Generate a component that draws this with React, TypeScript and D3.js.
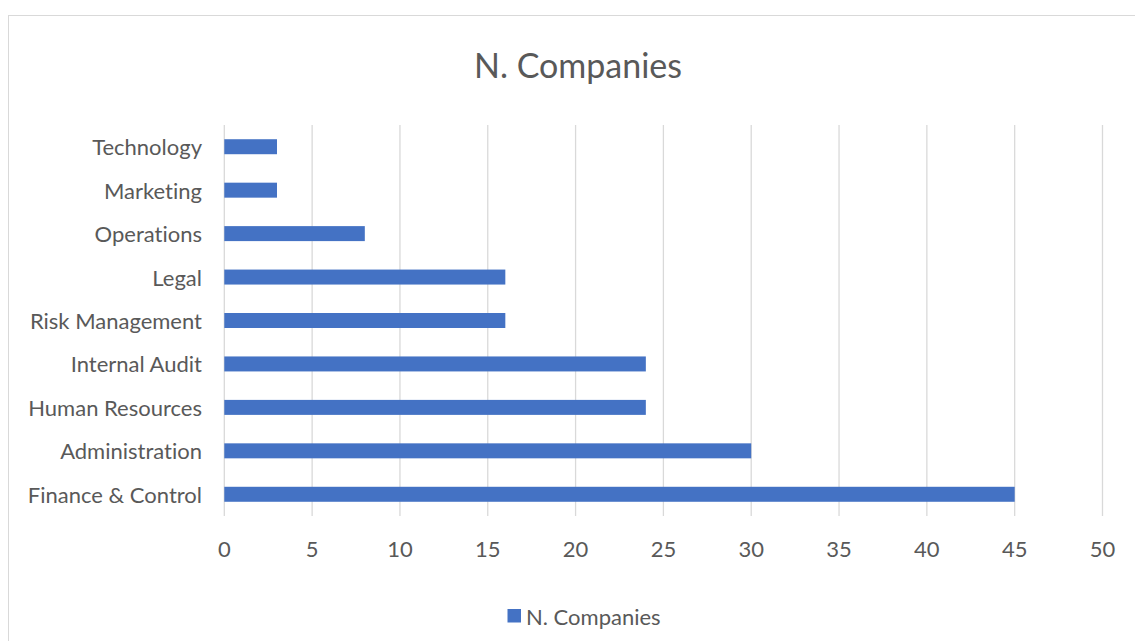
import React from "react";
import * as d3 from "d3";

const categories = [
  "Technology",
  "Marketing",
  "Operations",
  "Legal",
  "Risk Management",
  "Internal Audit",
  "Human Resources",
  "Administration",
  "Finance & Control",
];
const values = [3, 3, 8, 16, 16, 24, 24, 30, 45];
const xTicks = [0, 5, 10, 15, 20, 25, 30, 35, 40, 45, 50];
const title = "N. Companies";
const seriesName = "N. Companies";

const W = 1135;
const H = 641;
const FONT = "Lato, 'Open Sans', sans-serif";
const TEXT = "#595959";
const GRID = "#D9D9D9";
const BAR = "#4472C4";
const FS = 22;

export default function App() {
  const x = d3.scaleLinear().domain([0, 50]).range([224.3, 1102.5]);
  const y = d3
    .scaleBand<string>()
    .domain(categories)
    .range([125, 516])
    .paddingInner(0.655)
    .paddingOuter(0.3275);

  return (
    <svg
      width={W}
      height={H}
      style={{ position: "absolute", left: 0, top: 0, background: "#fff", fontVariantLigatures: "none" }}
      fontFamily={FONT}
    >
      <rect x={8.5} y={15.5} width={1140} height={640} fill="#fff" stroke={GRID} strokeWidth={1} />
      <text x={578} y={64} textAnchor="middle" dominantBaseline="central" fontSize={34} fill={TEXT}>
        {title}
      </text>
      {xTicks.map((t) => (
        <g key={t}>
          <line x1={x(t)} x2={x(t)} y1={125} y2={516} stroke={GRID} strokeWidth={1.3} />
          <text x={x(t)} y={548} textAnchor="middle" dominantBaseline="central" fontSize={FS} fill={TEXT}>
            {t}
          </text>
        </g>
      ))}
      {categories.map((c, i) => (
        <g key={c}>
          <rect
            x={x(0)}
            y={y(c)!}
            width={x(values[i]) - x(0)}
            height={y.bandwidth()}
            fill={BAR}
          />
          <text
            x={202}
            y={y(c)! + y.bandwidth() / 2}
            textAnchor="end"
            dominantBaseline="central"
            fontSize={FS}
            fill={TEXT}
          >
            {c}
          </text>
        </g>
      ))}
      <rect x={507.5} y={609} width={13.5} height={13.5} fill={BAR} />
      <text x={526} y={616} dominantBaseline="central" fontSize={FS} fill={TEXT}>
        {seriesName}
      </text>
    </svg>
  );
}
